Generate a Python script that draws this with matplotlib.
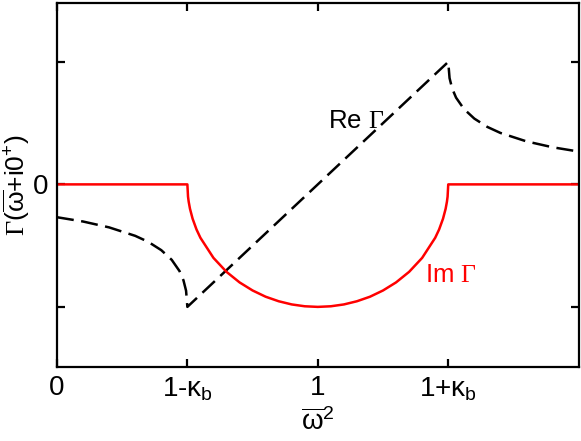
import numpy as np
import matplotlib
matplotlib.use('Agg')
import matplotlib.pyplot as plt

plt.rcParams['font.family'] = ['Liberation Sans', 'DejaVu Sans']
plt.rcParams['mathtext.fontset'] = 'custom'
plt.rcParams['mathtext.rm'] = 'Liberation Sans'
plt.rcParams['mathtext.it'] = 'Liberation Sans'
plt.rcParams['mathtext.sf'] = 'Liberation Sans'
plt.rcParams['mathtext.cal'] = 'Liberation Serif'

# Im Gamma (red): zero outside the band, half circle inside
im_x = [0.0, 0.5, 0.5025, 0.505, 0.51, 0.52, 0.535, 0.55, 0.6, 0.65, 0.7, 0.75, 0.8, 0.85, 0.9, 0.95,
        1.0, 1.05, 1.1, 1.15, 1.2, 1.25, 1.3, 1.35, 1.4, 1.45, 1.465, 1.48, 1.49, 1.495, 1.4975, 1.5, 2.0]
im_y = [0.0, 0.0, -0.1, -0.141, -0.199, -0.28, -0.368, -0.436, -0.6, -0.714, -0.8, -0.866, -0.917, -0.954, -0.98, -0.995,
        -1.0, -0.995, -0.98, -0.954, -0.917, -0.866, -0.8, -0.714, -0.6, -0.436, -0.368, -0.28, -0.199, -0.141, -0.1, 0.0, 0.0]

# Re Gamma (dashed black)
re_x = [0.0, 0.1, 0.2, 0.3, 0.35, 0.4, 0.44, 0.47, 0.485, 0.495, 0.5,
        1.5, 1.505, 1.515, 1.53, 1.56, 1.6, 1.65, 1.7, 1.8, 1.9, 2.0]
re_y = [-0.268, -0.303, -0.351, -0.42, -0.469, -0.537, -0.616, -0.708, -0.783, -0.868, -1.0,
        1.0, 0.868, 0.783, 0.708, 0.616, 0.537, 0.469, 0.42, 0.351, 0.303, 0.268]

xticks = [0, 0.5, 1, 1.5]
xticklabels = ['0', r'1-$\kappa_{b}$', '1', r'1+$\kappa_{b}$']
yticks = [-1, 0, 1]
yticklabels = ['', '0', '']

fig = plt.figure(figsize=(5.81, 4.41), dpi=100)
ax = fig.add_axes([0.098, 0.168, 0.898, 0.825])

ax.plot(re_x, re_y, color='black', lw=1.8, dashes=(6.8, 3.0))
ax.plot(im_x, im_y, color='red', lw=1.8, solid_capstyle='butt')

ax.text(1.04, 0.46, r'Re $\mathcal{\Gamma}$', fontsize=18.5, ha='left', va='baseline')
ax.text(1.412, -0.80, r'Im $\mathcal{\Gamma}$', fontsize=18.5, ha='left', va='baseline', color='red')

ax.set_xlim(0, 2)
ax.set_ylim(-1.49, 1.48)
ax.set_xticks(xticks)
ax.set_xticklabels(xticklabels)
ax.set_yticks(yticks)
ax.set_yticklabels(yticklabels)
ax.tick_params(direction='in', length=5.5, width=1.6, labelsize=20, top=True, right=True, pad=6)
for s in ax.spines.values():
    s.set_linewidth(1.6)

ax.set_xlabel(r'$\overline{\omega}^{2}$', fontsize=20, labelpad=4)
ax.set_ylabel(r'$\mathcal{\Gamma}$($\overline{\omega}$+i0$^{+}$)', fontsize=19, labelpad=0.5)

fig.savefig('out.png', dpi=100)
